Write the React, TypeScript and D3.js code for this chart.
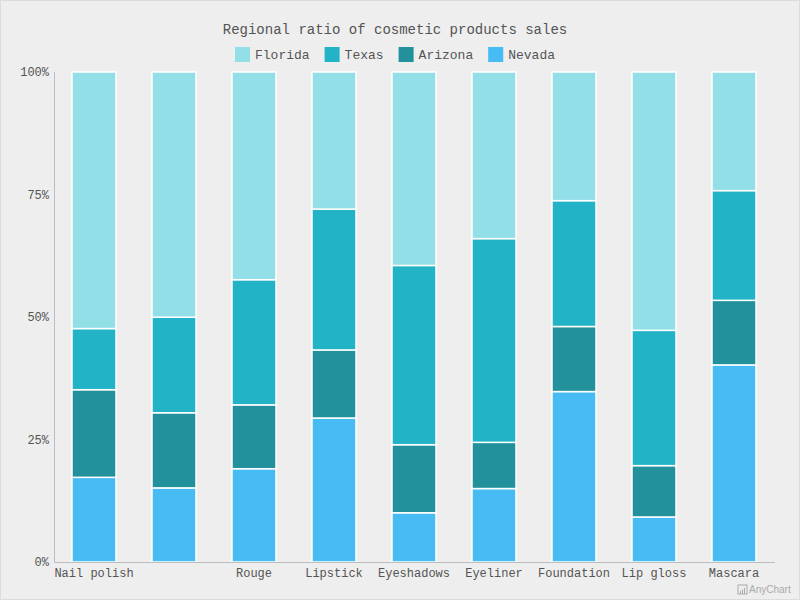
import React, { useEffect, useRef } from "react"
import * as d3 from "d3"

const categories = [
  "Nail polish", "Eyebrow pencil", "Rouge", "Lipstick", "Eyeshadows",
  "Eyeliner", "Foundation", "Lip gloss", "Mascara"
]
const florida = [12814, 13012, 11624, 8814, 12998, 12321, 10342, 22998, 11261]
const texas = [3054, 5067, 7004, 9054, 12043, 15067, 10119, 12043, 10419]
const arizona = [4376, 3987, 3574, 4376, 4572, 3417, 5231, 4572, 6134]
const nevada = [4229, 3932, 5221, 9256, 3308, 5432, 13701, 4008, 18712]
const yTicks = [0, 25, 50, 75, 100]

// legend order (stacking goes the other way: Nevada at the bottom)
const seriesNames = ["Florida", "Texas", "Arizona", "Nevada"]
const seriesColors = ["#92dfe8", "#22b3c7", "#22919b", "#46bbf4"]

function App() {
  const ref = useRef(null)
  const width = 800
  const height = 600

  useEffect(() => {
    const svg = d3.select(ref.current)
    svg.selectAll("*").remove()

    const font = "'Liberation Mono', 'Courier New', monospace"
    const textColor = "#545454"

    svg.append("rect")
      .attr("x", 0.5).attr("y", 0.5)
      .attr("width", width - 1).attr("height", height - 1)
      .attr("fill", "#eeeeee")
      .attr("stroke", "#dcdcdc")

    svg.append("text")
      .attr("x", 395).attr("y", 34)
      .attr("text-anchor", "middle")
      .style("font-family", font).style("font-size", "14px")
      .attr("fill", textColor)
      .text("Regional ratio of cosmetic products sales")

    // legend
    const charW = 13 * 0.6
    const itemWidths = seriesNames.map(n => 15 + 5 + n.length * charW)
    const legendTotal = d3.sum(itemWidths) + 15 * (seriesNames.length - 1)
    let lx = 395 - legendTotal / 2
    seriesNames.forEach((name, i) => {
      svg.append("rect")
        .attr("x", lx).attr("y", 47)
        .attr("width", 15).attr("height", 15)
        .attr("fill", seriesColors[i])
      svg.append("text")
        .attr("x", lx + 20).attr("y", 59)
        .style("font-family", font).style("font-size", "13px")
        .attr("fill", textColor)
        .text(name)
      lx += itemWidths[i] + 15
    })

    const left = 55
    const right = 775
    const top = 72
    const bottom = 562

    const x = d3.scaleBand().domain(categories).range([left - 1, right - 1]).paddingInner(0.45).paddingOuter(0.225)
    const y = d3.scaleLinear().domain([0, 100]).range([bottom, top])

    const rows = categories.map((c, i) => {
      const total = florida[i] + texas[i] + arizona[i] + nevada[i]
      return {
        cat: c,
        Nevada: (nevada[i] / total) * 100,
        Arizona: (arizona[i] / total) * 100,
        Texas: (texas[i] / total) * 100,
        Florida: (florida[i] / total) * 100
      }
    })

    const stackKeys = ["Nevada", "Arizona", "Texas", "Florida"]
    const stacked = d3.stack().keys(stackKeys)(rows)

    stacked.forEach(layer => {
      const color = seriesColors[seriesNames.indexOf(layer.key)]
      svg.append("g")
        .selectAll("rect")
        .data(layer)
        .enter()
        .append("rect")
        .attr("x", d => x(d.data.cat))
        .attr("width", x.bandwidth())
        .attr("y", d => y(d[1]))
        .attr("height", d => y(d[0]) - y(d[1]))
        .attr("fill", color)
        .attr("stroke", "#ffffff")
        .attr("stroke-width", 1.5)
    })

    // axes
    svg.append("line")
      .attr("x1", left - 0.5).attr("x2", left - 0.5)
      .attr("y1", top).attr("y2", bottom + 0.5)
      .attr("stroke", "#bdbdbd")
    svg.append("line")
      .attr("x1", left - 0.5).attr("x2", right)
      .attr("y1", bottom + 0.5).attr("y2", bottom + 0.5)
      .attr("stroke", "#bdbdbd")

    yTicks.forEach(t => {
      svg.append("text")
        .attr("x", 49).attr("y", y(t))
        .attr("dy", "0.35em")
        .attr("text-anchor", "end")
        .style("font-family", font).style("font-size", "12px")
        .attr("fill", textColor)
        .text(t + "%")
    })

    // x labels, hiding ones that would overlap the previous label
    let lastEnd = -Infinity
    categories.forEach(c => {
      const cx = x(c) + x.bandwidth() / 2
      const w = c.length * 12 * 0.6
      if (cx - w / 2 < lastEnd) return
      lastEnd = cx + w / 2
      svg.append("text")
        .attr("x", cx).attr("y", 577)
        .attr("text-anchor", "middle")
        .style("font-family", font).style("font-size", "12px")
        .attr("fill", textColor)
        .text(c)
    })

    // credits
    const cr = svg.append("g").attr("transform", "translate(738, 585)")
    cr.append("rect").attr("x", 0).attr("y", 0).attr("width", 9).attr("height", 9)
      .attr("fill", "none").attr("stroke", "#aaaaaa")
    ;[2, 4, 6].forEach((bx, i) => {
      cr.append("rect").attr("x", bx).attr("y", 6 - i * 1.5).attr("width", 1).attr("height", 3 + i * 1.5)
        .attr("fill", "#aaaaaa")
    })
    svg.append("text")
      .attr("x", 749).attr("y", 593)
      .style("font-family", "'Liberation Sans', Arial, sans-serif").style("font-size", "10px")
      .attr("fill", "#aaaaaa")
      .text("AnyChart")
  }, [])

  return (
    <svg ref={ref} width={width} height={height}
      style={{ position: "absolute", left: 0, top: 0, display: "block" }} />
  )
}

export default App
